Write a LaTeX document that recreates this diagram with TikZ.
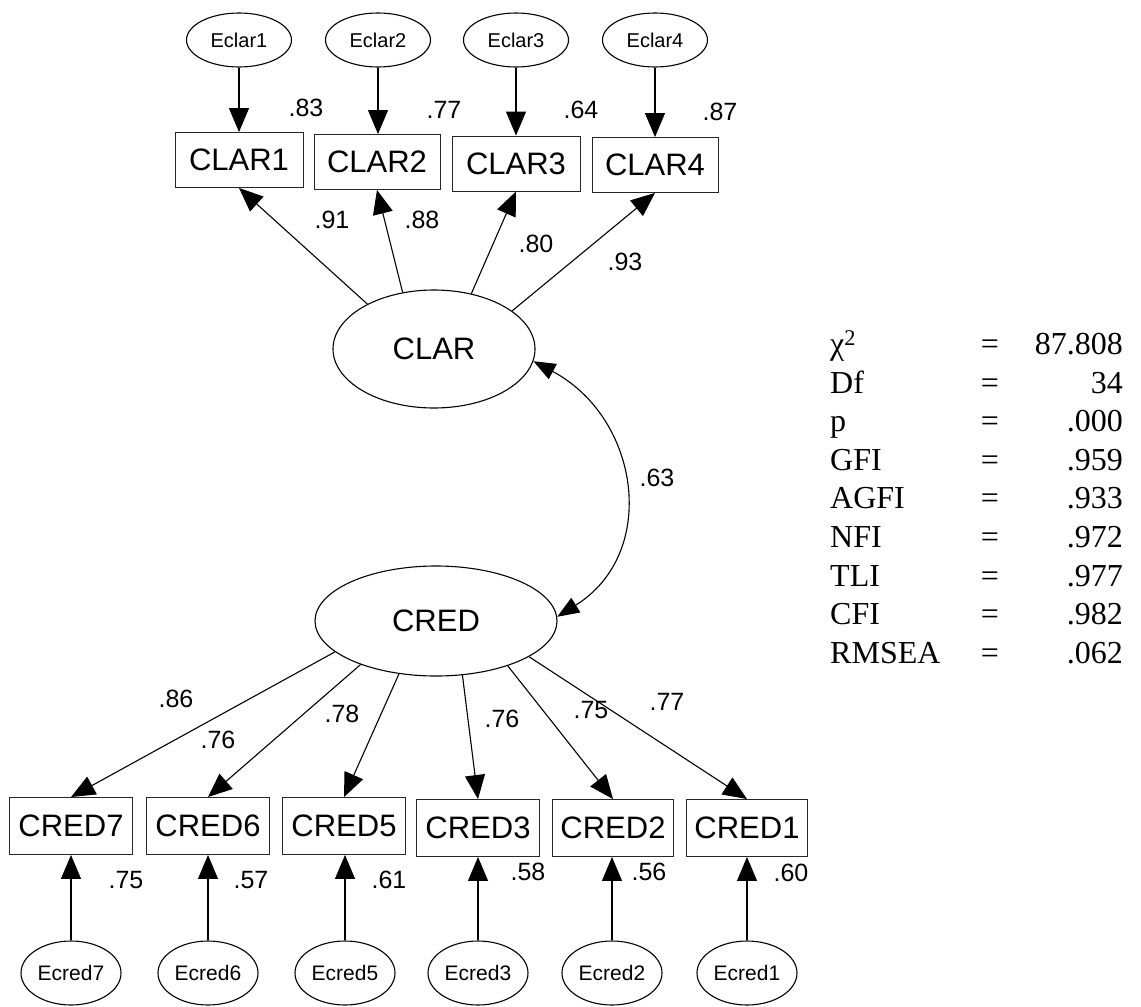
\documentclass[tikz,border=0pt]{standalone}
\usepackage{fontspec}
\setmainfont{Liberation Sans}
\newfontfamily\statfont{Liberation Serif}
\usetikzlibrary{arrows.meta,shapes.geometric}

\begin{document}
\begin{tikzpicture}[x=1pt,y=1pt,
  latent/.style={draw, ellipse, line width=1.1pt, inner sep=0pt,
    minimum width=202pt, minimum height=118pt, font=\fontsize{31}{31}\selectfont},
  errclar/.style={draw, ellipse, line width=1.1pt, inner sep=0pt,
    minimum width=105pt, minimum height=54pt, font=\fontsize{20}{20}\selectfont},
  errcred/.style={draw, ellipse, line width=1.1pt, inner sep=0pt,
    minimum width=100pt, minimum height=64pt, font=\fontsize{21}{21}\selectfont},
  obsbox/.style={draw=black!85, rectangle, line width=0.9pt, inner sep=0pt,
    minimum width=125pt, minimum height=55pt, font=\fontsize{31}{31}\selectfont},
  coef/.style={font=\fontsize{25}{25}\selectfont, inner sep=0pt},
  reg/.style={line width=1.1pt, -{Triangle[length=24pt,width=20pt]}},
  cov/.style={line width=1.1pt, {Triangle[length=22pt,width=17pt]}-{Triangle[length=22pt,width=17pt]}},
  stat/.style={font=\statfont\fontsize{32}{32}\selectfont, inner sep=0pt}
]
\useasboundingbox[fill=white] (0,0) rectangle (1141,-1007);

% ---- clarity block ----
\node[errclar] (E1) at (239,-40) {Eclar1};
\node[errclar] (E2) at (378,-40) {Eclar2};
\node[errclar] (E3) at (516,-40) {Eclar3};
\node[errclar] (E4) at (655,-40) {Eclar4};

\node[obsbox, minimum width=128pt] (C1) at (239,-160) {CLAR1};
\node[obsbox, minimum width=126pt] (C2) at (377,-162) {CLAR2};
\node[obsbox, minimum width=128pt] (C3) at (516,-163.5) {CLAR3};
\node[obsbox, minimum width=126pt] (C4) at (655,-165) {CLAR4};

\node[latent] (CLAR) at (434,-349) {CLAR};

\foreach \i in {1,...,4}
  \draw[reg] (E\i.south) -- (E\i.south |- C\i.north);

\draw[reg] (CLAR.146) -- (C1.south);
\draw[reg] (CLAR.119) -- (C2.south);
\draw[reg] (CLAR.56)  -- (C3.south);
\draw[reg] (CLAR.26)  -- (C4.south);

\node[coef] (r1) at (306,-108) {.83};
\node[coef] (r2) at (444,-110) {.77};
\node[coef] (r3) at (581,-110) {.64};
\node[coef] (r4) at (720,-112) {.87};

\node[coef] (l1) at (332,-220) {.91};
\node[coef] (l2) at (422,-220) {.88};
\node[coef] (l3) at (536,-244) {.80};
\node[coef] (l4) at (625,-262) {.93};

% ---- credibility block ----
\node[latent, minimum width=242pt, minimum height=110pt] (CRED) at (436,-621) {CRED};

\node[obsbox, minimum width=123pt, minimum height=57pt] (D7) at (71,-826)  {CRED7};
\node[obsbox, minimum width=123pt, minimum height=57pt] (D6) at (208,-826) {CRED6};
\node[obsbox, minimum width=123pt, minimum height=57pt] (D5) at (344,-826) {CRED5};
\node[obsbox, minimum width=123pt, minimum height=57pt] (D3) at (478,-828) {CRED3};
\node[obsbox, minimum width=121pt, minimum height=57pt] (D2) at (613,-828) {CRED2};
\node[obsbox, minimum width=121pt, minimum height=57pt] (D1) at (747,-828) {CRED1};

\node[errcred] (F7) at (71,-973)  {Ecred7};
\node[errcred] (F6) at (208,-973) {Ecred6};
\node[errcred] (F5) at (345,-973) {Ecred5};
\node[errcred] (F3) at (478,-973) {Ecred3};
\node[errcred] (F2) at (612,-973) {Ecred2};
\node[errcred] (F1) at (747,-973) {Ecred1};

\foreach \i in {7,6,5,3,2,1}
  \draw[reg] (F\i.north) -- (F\i.north |- D\i.south);

\draw[reg] (CRED.-163) -- (D7.north);
\draw[reg] (CRED.-150) -- (D6.north);
\draw[reg] (CRED.-125) -- (D5.north);
\draw[reg] (CRED.-64)  -- (D3.north);
\draw[reg] (CRED.-32)  -- (D2.north);
\draw[reg] (CRED.-21)  -- (D1.north);

\node[coef] (m7) at (176,-699) {.86};
\node[coef] (m6) at (218,-740) {.76};
\node[coef] (m5) at (342,-714) {.78};
\node[coef] (m3) at (502,-719) {.76};
\node[coef] (m2) at (591,-710) {.75};
\node[coef] (m1) at (667,-702) {.77};

\node[coef] (s7) at (126,-880) {.75};
\node[coef] (s6) at (251,-880) {.57};
\node[coef] (s5) at (389,-880) {.61};
\node[coef] (s3) at (528,-872) {.58};
\node[coef] (s2) at (649,-872) {.56};
\node[coef] (s1) at (791,-873) {.60};

% ---- factor covariance ----
\draw[cov] (CLAR.-7) to[out=-28, in=32, looseness=1.2] (CRED.2);
\node[coef] (rho) at (657,-478) {.63};

% ---- fit statistics ----
\foreach \lab/\val [count=\k from 0] in
  {{χ\textsuperscript{2}}/87.808, Df/34, p/.000, GFI/.959, AGFI/.933,
   NFI/.972, TLI/.977, CFI/.982, RMSEA/.062} {
  \node[stat, anchor=base west] (fl\k) at (830,-354.4-38.6*\k) {\lab};
  \node[stat, anchor=base] (fe\k) at (990,-354.4-38.6*\k) {=};
  \node[stat, anchor=base east] (fv\k) at (1123,-354.4-38.6*\k) {\val};
}
\end{tikzpicture}
\end{document}
